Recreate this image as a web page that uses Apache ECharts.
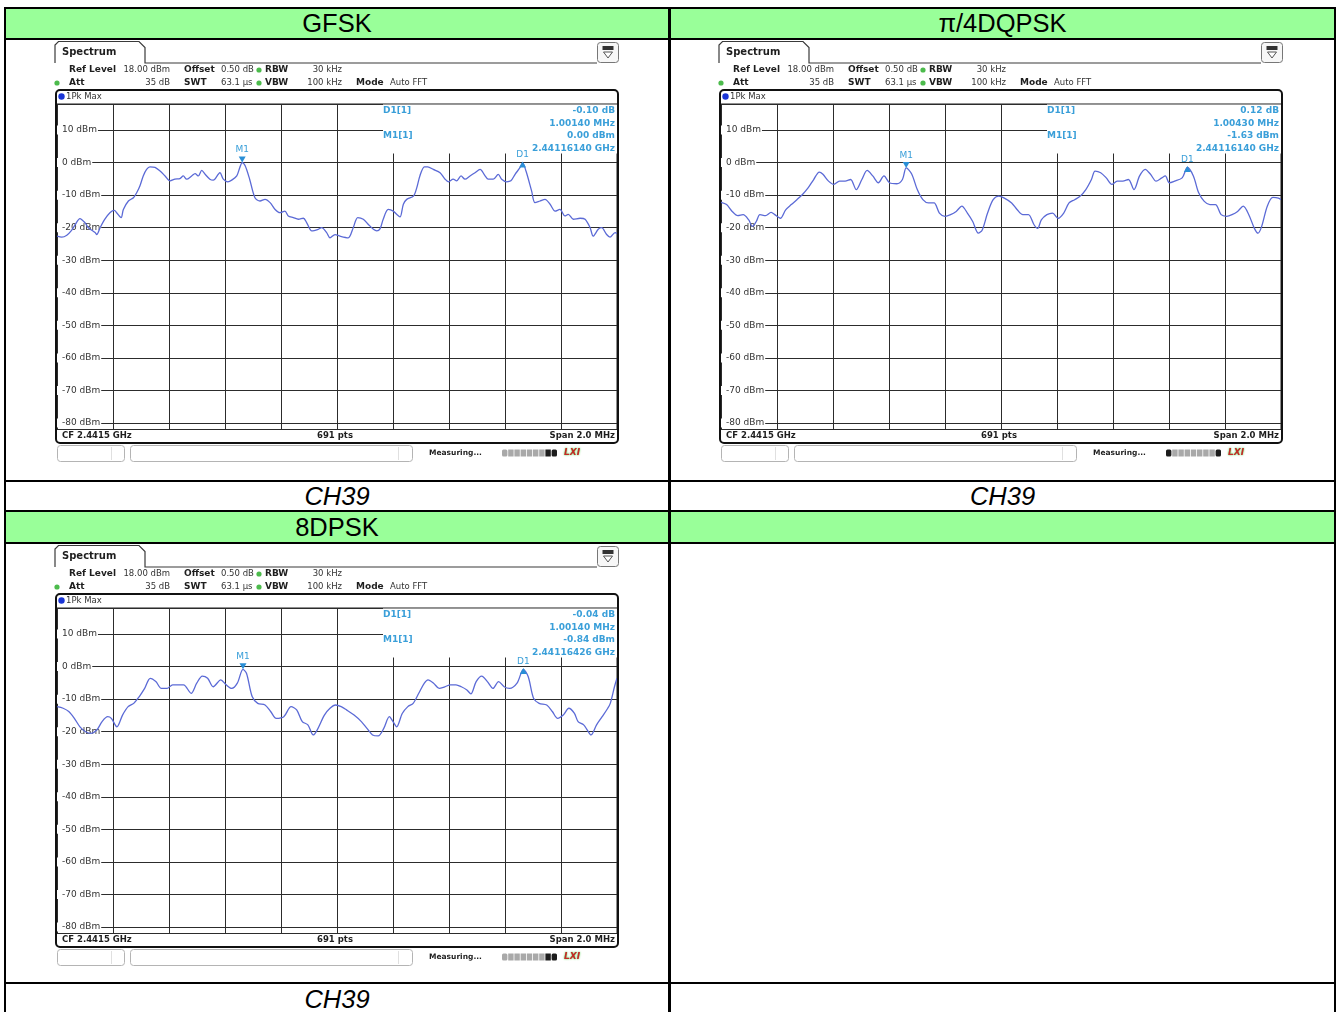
<!DOCTYPE html>
<html>
<head>
<meta charset="utf-8">
<script src="https://cdn.jsdelivr.net/npm/echarts@6/dist/echarts.min.js"></script>
<style>
  html, body { margin: 0; padding: 0; background: #fff; }
  body { width: 1338px; height: 1012px; position: relative; overflow: hidden;
         font-family: "Liberation Sans", Arial, sans-serif; color: #000; }
  .ln { position: absolute; background: #000; }
  .cell { position: absolute; display: flex; align-items: center; justify-content: center; }
  .hdr { background: #99ff99; font-size: 25.5px; }
  .cap { font-size: 25.5px; font-style: italic; }
  .panel { position: absolute; width: 575px; height: 430px; }
</style>
</head>
<body>
<!-- table cells -->
<div class="cell hdr" style="left:6px;top:9px;width:662px;height:29px;">GFSK</div>
<div class="cell hdr" style="left:671px;top:9px;width:663px;height:29px;">π/4DQPSK</div>
<div class="cell cap" style="left:6px;top:482px;width:662px;height:28px;">CH39</div>
<div class="cell cap" style="left:671px;top:482px;width:663px;height:28px;">CH39</div>
<div class="cell hdr" style="left:6px;top:512px;width:662px;height:30px;">8DPSK</div>
<div class="cell hdr" style="left:671px;top:512px;width:663px;height:30px;"></div>
<div class="cell cap" style="left:6px;top:984px;width:662px;height:30px;">CH39</div>
<!-- table rules -->
<div class="ln" style="left:4px;top:7px;width:1332px;height:2px;"></div>
<div class="ln" style="left:4px;top:38px;width:1332px;height:2px;"></div>
<div class="ln" style="left:4px;top:480px;width:1332px;height:2px;"></div>
<div class="ln" style="left:4px;top:510px;width:1332px;height:2px;"></div>
<div class="ln" style="left:4px;top:542px;width:1332px;height:2px;"></div>
<div class="ln" style="left:4px;top:982px;width:1332px;height:2px;"></div>
<div class="ln" style="left:4px;top:7px;width:2px;height:1005px;"></div>
<div class="ln" style="left:1334px;top:7px;width:2px;height:1005px;"></div>
<div class="ln" style="left:668px;top:7px;width:3px;height:1005px;"></div>

<div id="p1" class="panel" style="left:50px;top:39px;"></div>
<div id="p2" class="panel" style="left:714px;top:39px;"></div>
<div id="p3" class="panel" style="left:50px;top:543px;"></div>

<script>
// Analyzer settings shared by all three sweeps
const cfMHz = 2441.5;
const spanMHz = 2.0;
const refLevel = 18;
const rangeDb = 100;
const sweepPoints = 691;

// Max-hold traces: [offset from CF in MHz, level in dBm]
const gfskTrace = [[-1.000,-22.6],[-0.983,-22.9],[-0.965,-22.3],[-0.948,-20.8],[-0.936,-19.2],[-0.918,-17.2],[-0.900,-18.5],[-0.888,-20.0],[-0.864,-21.5],[-0.858,-22.1],[-0.846,-20.0],[-0.829,-17.4],[-0.811,-15.4],[-0.795,-14.7],[-0.787,-15.4],[-0.771,-16.9],[-0.763,-14.4],[-0.745,-11.8],[-0.727,-10.8],[-0.715,-9.2],[-0.704,-7.2],[-0.692,-4.1],[-0.680,-2.1],[-0.668,-1.3],[-0.650,-1.5],[-0.632,-2.6],[-0.614,-4.1],[-0.596,-5.6],[-0.579,-5.1],[-0.561,-4.9],[-0.549,-4.1],[-0.537,-5.1],[-0.519,-4.1],[-0.507,-3.4],[-0.495,-4.1],[-0.483,-2.4],[-0.471,-3.6],[-0.454,-5.1],[-0.442,-5.4],[-0.424,-3.6],[-0.418,-3.1],[-0.406,-5.1],[-0.390,-5.9],[-0.376,-5.4],[-0.358,-4.1],[-0.347,-1.5],[-0.3386,0.0],[-0.328,-1.0],[-0.312,-5.1],[-0.293,-10.8],[-0.275,-11.8],[-0.257,-11.3],[-0.239,-12.3],[-0.221,-14.4],[-0.204,-15.4],[-0.186,-14.9],[-0.174,-16.4],[-0.156,-16.9],[-0.138,-17.4],[-0.120,-17.1],[-0.108,-18.5],[-0.090,-21.0],[-0.067,-20.5],[-0.055,-20.0],[-0.037,-21.5],[-0.025,-23.1],[-0.007,-22.1],[0.011,-22.6],[0.040,-23.1],[0.058,-20.0],[0.074,-16.9],[0.094,-17.4],[0.112,-19.0],[0.130,-20.5],[0.142,-21.0],[0.154,-20.3],[0.165,-17.4],[0.183,-14.4],[0.201,-14.9],[0.213,-15.9],[0.225,-16.7],[0.237,-12.8],[0.249,-11.3],[0.273,-10.3],[0.285,-7.7],[0.296,-4.1],[0.312,-1.3],[0.324,-1.3],[0.344,-2.1],[0.368,-3.1],[0.386,-5.1],[0.398,-5.9],[0.415,-5.1],[0.427,-5.6],[0.443,-4.1],[0.457,-5.1],[0.475,-4.1],[0.493,-3.1],[0.511,-2.1],[0.529,-4.1],[0.540,-5.1],[0.558,-5.1],[0.576,-3.6],[0.588,-5.1],[0.606,-5.9],[0.621,-5.6],[0.636,-3.6],[0.654,-1.5],[0.6628,-0.1],[0.675,-2.6],[0.695,-8.7],[0.707,-12.3],[0.725,-11.8],[0.743,-11.3],[0.761,-12.8],[0.779,-14.9],[0.796,-14.4],[0.814,-16.4],[0.826,-15.9],[0.844,-17.4],[0.868,-17.1],[0.886,-17.4],[0.904,-20.0],[0.915,-22.6],[0.933,-20.5],[0.945,-20.0],[0.963,-22.1],[0.975,-22.9],[0.993,-21.5],[1.000,-21.8]];

const dqpskTrace = [[-1.000,-12.2],[-0.980,-12.9],[-0.960,-15.0],[-0.940,-16.3],[-0.921,-16.0],[-0.901,-17.6],[-0.888,-19.6],[-0.874,-18.1],[-0.861,-16.0],[-0.841,-16.3],[-0.821,-15.3],[-0.808,-16.0],[-0.788,-17.1],[-0.769,-14.5],[-0.749,-12.9],[-0.729,-11.4],[-0.709,-9.8],[-0.689,-7.8],[-0.669,-5.2],[-0.649,-2.9],[-0.636,-3.6],[-0.616,-5.7],[-0.597,-6.7],[-0.577,-5.7],[-0.557,-5.7],[-0.537,-5.2],[-0.517,-8.3],[-0.497,-5.2],[-0.478,-2.4],[-0.458,-4.1],[-0.438,-6.2],[-0.418,-4.1],[-0.398,-6.2],[-0.372,-6.5],[-0.352,-5.2],[-0.3386,-1.63],[-0.319,-3.5],[-0.299,-8.3],[-0.279,-11.4],[-0.259,-12.4],[-0.239,-12.4],[-0.220,-15.5],[-0.200,-16.5],[-0.180,-16.0],[-0.160,-15.0],[-0.140,-13.4],[-0.120,-15.5],[-0.101,-18.1],[-0.081,-21.7],[-0.067,-20.7],[-0.048,-15.5],[-0.028,-11.4],[-0.008,-10.3],[0.012,-10.9],[0.038,-12.4],[0.058,-14.5],[0.078,-16.0],[0.098,-16.0],[0.118,-19.1],[0.131,-20.2],[0.144,-17.6],[0.164,-16.0],[0.184,-15.5],[0.204,-17.1],[0.224,-15.5],[0.243,-12.4],[0.263,-11.4],[0.283,-10.3],[0.303,-8.3],[0.323,-5.2],[0.336,-2.6],[0.356,-3.1],[0.376,-4.7],[0.396,-6.7],[0.415,-5.7],[0.435,-5.7],[0.455,-5.2],[0.475,-8.3],[0.495,-4.1],[0.515,-2.1],[0.534,-3.6],[0.554,-5.7],[0.574,-4.7],[0.587,-4.1],[0.601,-6.2],[0.620,-5.7],[0.647,-4.7],[0.6657,-1.51],[0.687,-4.1],[0.706,-9.3],[0.726,-11.9],[0.746,-12.9],[0.766,-12.9],[0.786,-16.0],[0.806,-16.5],[0.825,-16.0],[0.845,-15.0],[0.865,-13.4],[0.885,-16.0],[0.905,-20.2],[0.918,-21.7],[0.931,-19.6],[0.951,-13.4],[0.971,-10.7],[0.991,-10.9],[1.000,-11.4]];

const dpsk8Trace = [[-1.000,-12.3],[-0.978,-12.8],[-0.958,-13.8],[-0.938,-15.9],[-0.918,-18.5],[-0.898,-20.0],[-0.878,-20.5],[-0.858,-19.5],[-0.839,-16.9],[-0.819,-15.4],[-0.806,-15.9],[-0.786,-18.5],[-0.766,-14.9],[-0.746,-12.3],[-0.726,-11.3],[-0.706,-9.2],[-0.687,-6.7],[-0.667,-3.6],[-0.647,-4.6],[-0.627,-6.7],[-0.607,-6.7],[-0.587,-5.6],[-0.567,-5.6],[-0.548,-5.6],[-0.521,-8.2],[-0.501,-5.1],[-0.481,-2.9],[-0.462,-3.6],[-0.442,-6.2],[-0.415,-4.1],[-0.396,-5.6],[-0.376,-6.7],[-0.356,-5.1],[-0.33574,-0.84],[-0.323,-2.1],[-0.303,-9.2],[-0.283,-11.3],[-0.257,-11.8],[-0.237,-13.8],[-0.217,-15.9],[-0.190,-15.4],[-0.164,-12.3],[-0.144,-13.3],[-0.124,-16.9],[-0.104,-17.9],[-0.085,-21.0],[-0.071,-19.5],[-0.045,-14.9],[-0.025,-12.8],[-0.005,-11.8],[0.015,-12.3],[0.034,-13.3],[0.061,-14.9],[0.087,-16.9],[0.107,-19.0],[0.127,-21.0],[0.147,-21.3],[0.167,-19.0],[0.187,-15.4],[0.200,-16.9],[0.213,-18.5],[0.233,-14.4],[0.253,-12.3],[0.272,-11.3],[0.292,-8.2],[0.312,-5.1],[0.325,-4.1],[0.345,-5.1],[0.365,-6.7],[0.385,-6.2],[0.405,-5.6],[0.425,-5.6],[0.444,-6.2],[0.464,-7.2],[0.478,-8.4],[0.497,-4.6],[0.517,-2.9],[0.537,-4.6],[0.557,-6.7],[0.577,-4.6],[0.597,-6.2],[0.616,-6.7],[0.643,-5.1],[0.66566,-0.88],[0.683,-3.1],[0.702,-9.7],[0.722,-11.3],[0.749,-11.8],[0.769,-13.8],[0.788,-15.9],[0.808,-14.9],[0.828,-12.8],[0.848,-14.4],[0.861,-16.9],[0.881,-17.9],[0.894,-19.5],[0.907,-21.0],[0.927,-17.9],[0.947,-15.4],[0.967,-12.8],[0.976,-11.3],[0.991,-6.2],[1.000,-3.6]];

// Marker readouts: M1 absolute (GHz, dBm), D1 relative to M1 (MHz, dB)
const gfskMarkers  = [2.44116140,  0.00, 1.00140, -0.10];
const dqpskMarkers = [2.44116140, -1.63, 1.00430,  0.12];
const dpsk8Markers = [2.44116426, -0.84, 1.00140, -0.04];

// Sweep-progress segments (1 = dark) in the status line
const gfskBusy  = [0,0,0,0,0,0,0,1,1];
const dqpskBusy = [1,0,0,0,0,0,0,0,1];
const dpsk8Busy = [0,0,0,0,0,0,0,1,1];

const INK = '#1e1e1e';
const UI = '"DejaVu Sans", Verdana, sans-serif';
const MARK = '#3a9fd9';
const TRACE = '#5b6ad6';

function T(x, y, s, o) {
  o = o || {};
  const al = o.align || 'left';
  return {
    type: 'text', x: x, y: y, z: 20, silent: true,
    style: {
      text: s, fill: o.fill || INK,
      font: (o.italic ? 'italic ' : '') + (o.bold ? 'bold ' : '') + (o.size || 8.5) + 'px ' + UI,
      textAlign: al, textVerticalAlign: 'middle',
      textShadowColor: o.shadow || 'transparent', textShadowBlur: o.shadow ? 2 : 0
    }
  };
}
function dot(x, y, r, c) {
  return { type: 'circle', z: 20, silent: true, shape: { cx: x, cy: y, r: r }, style: { fill: c } };
}

function chrome(mk, busy) {
  const g = [];
  // title tab and icon
  g.push({ type: 'polyline', z: 20, silent: true,
    shape: { points: [[5, 24], [5, 6], [8.5, 2.5], [89, 2.5], [95, 8.5], [95, 24], [547, 24]] },
    style: { stroke: '#3a3a3a', lineWidth: 1.2, fill: null } });
  g.push(T(12, 13, 'Spectrum', { bold: true, size: 10 }));
  g.push({ type: 'rect', z: 20, silent: true, shape: { x: 547.5, y: 3.5, width: 21, height: 20, r: 3 },
    style: { fill: '#f7f7f7', stroke: '#777', lineWidth: 1 } });
  g.push({ type: 'rect', z: 21, silent: true, shape: { x: 552.5, y: 7, width: 11, height: 4 }, style: { fill: '#333' } });
  g.push({ type: 'polygon', z: 21, silent: true, shape: { points: [[553.5, 13], [562.5, 13], [558, 19]] },
    style: { fill: '#fff', stroke: '#555', lineWidth: 1 } });

  // setting lines
  g.push(T(19, 31, 'Ref Level', { bold: true, size: 9 }));
  g.push(T(120, 31, refLevel.toFixed(2) + ' dBm', { align: 'right', fill: '#333' }));
  g.push(T(134, 31, 'Offset', { bold: true, size: 9 }));
  g.push(T(171, 31, '0.50 dB', { fill: '#333' }));
  g.push(dot(209, 31, 2.6, '#4cbb4c'));
  g.push(T(215, 31, 'RBW', { bold: true, size: 9 }));
  g.push(T(292, 31, '30 kHz', { align: 'right', fill: '#333' }));
  g.push(dot(7, 44, 2.6, '#4cbb4c'));
  g.push(T(19, 44, 'Att', { bold: true, size: 9 }));
  g.push(T(120, 44, '35 dB', { align: 'right', fill: '#333' }));
  g.push(T(134, 44, 'SWT', { bold: true, size: 9 }));
  g.push(T(171, 44, '63.1 µs', { fill: '#333' }));
  g.push(dot(209, 44, 2.6, '#4cbb4c'));
  g.push(T(215, 44, 'VBW', { bold: true, size: 9 }));
  g.push(T(292, 44, '100 kHz', { align: 'right', fill: '#333' }));
  g.push(T(306, 44, 'Mode', { bold: true, size: 9 }));
  g.push(T(340, 44, 'Auto FFT', { fill: '#333' }));

  // diagram frame
  g.push({ type: 'rect', z: 20, silent: true, shape: { x: 6, y: 51, width: 562, height: 353, r: 4 },
    style: { fill: null, stroke: '#111', lineWidth: 2 } });
  g.push(dot(11.5, 57.5, 3.2, '#1a35d6'));
  g.push(T(16, 57.5, '1Pk Max', { fill: '#333' }));

  // marker table
  g.push({ type: 'rect', z: 1, silent: true, shape: { x: 333, y: 65.5, width: 234, height: 49 }, style: { fill: '#fff' } });
  g.push(T(333, 72, 'D1[1]', { bold: true, fill: MARK, size: 9 }));
  g.push(T(565, 72, mk[3].toFixed(2) + ' dB', { bold: true, fill: MARK, align: 'right', size: 9 }));
  g.push(T(565, 84.5, mk[2].toFixed(5) + ' MHz', { bold: true, fill: MARK, align: 'right', size: 9 }));
  g.push(T(333, 97, 'M1[1]', { bold: true, fill: MARK, size: 9 }));
  g.push(T(565, 97, mk[1].toFixed(2) + ' dBm', { bold: true, fill: MARK, align: 'right', size: 9 }));
  g.push(T(565, 109.5, mk[0].toFixed(8) + ' GHz', { bold: true, fill: MARK, align: 'right', size: 9 }));

  // footer
  g.push(T(12, 397, 'CF ' + (cfMHz / 1000).toFixed(4) + ' GHz', { bold: true }));
  g.push(T(285, 397, sweepPoints + ' pts', { bold: true, align: 'center' }));
  g.push(T(565, 397, 'Span ' + spanMHz.toFixed(1) + ' MHz', { bold: true, align: 'right' }));

  // status line
  g.push({ type: 'rect', z: 20, silent: true, shape: { x: 7.5, y: 406.5, width: 67, height: 16, r: 3 },
    style: { fill: '#fff', stroke: '#b4b4b4', lineWidth: 1 } });
  g.push({ type: 'line', z: 20, silent: true, shape: { x1: 61.5, y1: 408, x2: 61.5, y2: 421 }, style: { stroke: '#e0e0e0' } });
  g.push({ type: 'rect', z: 20, silent: true, shape: { x: 80.5, y: 406.5, width: 282, height: 16, r: 3 },
    style: { fill: '#fff', stroke: '#b4b4b4', lineWidth: 1 } });
  g.push({ type: 'line', z: 20, silent: true, shape: { x1: 348.5, y1: 408, x2: 348.5, y2: 421 }, style: { stroke: '#e0e0e0' } });
  g.push(T(379, 414, 'Measuring...', { bold: true, size: 7.5 }));
  busy.forEach(function (b, i) {
    g.push({ type: 'rect', z: 20, silent: true,
      shape: { x: 452 + i * 6.2, y: 410.5, width: 5.4, height: 7, r: (i === 0 || i === busy.length - 1) ? 1.5 : 0 },
      style: { fill: b ? '#1c1c1c' : '#a9a9a9' } });
  });
  g.push(T(514, 414, 'LXI', { bold: true, italic: true, size: 9, fill: '#c62828', shadow: '#33cc33' }));
  return g;
}

function panelOption(trace, mk, busy) {
  const m1Off = mk[0] * 1000 - cfMHz;
  const d1Off = m1Off + mk[2];
  const d1Lvl = mk[1] + mk[3];
  return {
    animation: false,
    grid: { left: 7, top: 65, width: 560, height: 325.5, show: true,
            borderColor: INK, borderWidth: 1, backgroundColor: 'transparent' },
    xAxis: {
      type: 'value', min: -spanMHz / 2, max: spanMHz / 2, interval: spanMHz / 10,
      axisLine: { show: false }, axisTick: { show: false }, axisLabel: { show: false },
      splitLine: { show: true, lineStyle: { color: '#2c2c2c', width: 1 } }
    },
    yAxis: {
      type: 'value', min: refLevel - rangeDb, max: refLevel, splitNumber: 10,
      axisLine: { show: false }, axisTick: { show: false },
      axisLabel: { show: true, inside: true, margin: 0, showMinLabel: false, showMaxLabel: false,
        formatter: function (v) { return v + ' dBm'; },
        color: '#333', fontFamily: UI, fontSize: 9, backgroundColor: '#fff', padding: [0, 1, 0, 5] },
      splitLine: { show: true, lineStyle: { color: '#2c2c2c', width: 1 } }
    },
    series: [{
      type: 'line', data: trace, showSymbol: false, smooth: 0.3, z: 3,
      lineStyle: { color: TRACE, width: 1.3 },
      markPoint: {
        silent: true, animation: false,
        data: [
          { coord: [m1Off, mk[1]], symbol: 'path://M0,0L10,0L5,8Z', symbolSize: [7, 6], symbolOffset: [0, -3],
            itemStyle: { color: '#2a8fd6' },
            label: { show: true, formatter: 'M1', position: 'top', distance: 2, color: MARK, fontSize: 9, fontFamily: UI } },
          { coord: [d1Off, d1Lvl], symbol: 'triangle', symbolSize: [7, 6], symbolOffset: [0, 1.5],
            itemStyle: { color: '#2a8fd6' },
            label: { show: true, formatter: 'D1', position: 'top', distance: 2, color: MARK, fontSize: 9, fontFamily: UI } }
        ]
      }
    }],
    graphic: chrome(mk, busy)
  };
}

[['p1', gfskTrace, gfskMarkers, gfskBusy],
 ['p2', dqpskTrace, dqpskMarkers, dqpskBusy],
 ['p3', dpsk8Trace, dpsk8Markers, dpsk8Busy]].forEach(function (p) {
  const chart = echarts.init(document.getElementById(p[0]), null, { renderer: 'canvas' });
  chart.setOption(panelOption(p[1], p[2], p[3]));
});
</script>
</body>
</html>
